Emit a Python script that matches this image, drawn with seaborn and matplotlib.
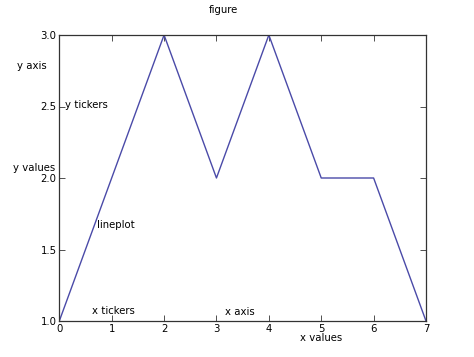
import matplotlib
matplotlib.use("Agg")
import matplotlib.pyplot as plt
import seaborn as sns
import pandas as pd

# data
x_values = [0, 1, 2, 3, 4, 5, 6, 7]
y_values = [1, 2, 3, 2, 3, 2, 2, 1]
x_ticks = [0, 1, 2, 3, 4, 5, 6, 7]
y_ticks = [1.0, 1.5, 2.0, 2.5, 3.0]

# free-floating labels (text, left px, centre y px)
labels = [
    ("y axis", 17, 66),
    ("y tickers", 65, 105),
    ("y values", 13, 168),
    ("lineplot", 97, 225),
    ("x tickers", 92, 311),
    ("x axis", 225, 312),
    ("x values", 300, 338),
]

sns.set_style("white")
plt.rcParams['font.family'] = ['DejaVu Sans']
plt.rcParams['text.color'] = 'black'

W, H = 474, 357
fig = plt.figure(figsize=(W / 100, H / 100), dpi=100)
ax = fig.add_axes([59.3 / W, 1 - 321 / H, (426 - 59.3) / W, (321 - 35) / H])

df = pd.DataFrame({"x": x_values, "y": y_values})
sns.lineplot(data=df, x="x", y="y", ax=ax, color="#4a4aa8", linewidth=1.0)

ax.set_xlim(0, 7)
ax.set_ylim(1.0, 3.0)
ax.set_xticks(x_ticks)
ax.set_yticks(y_ticks)
ax.set_xticklabels([str(v) for v in x_ticks])
ax.set_yticklabels([f"{v:.1f}" for v in y_ticks])
ax.set_xlabel("")
ax.set_ylabel("")
ax.tick_params(direction="in", length=4, width=0.6, labelsize=7.3, pad=2,
               top=True, right=True, bottom=True, left=True,
               colors="#333333", labelcolor="black")
for s in ax.spines.values():
    s.set_color("#333333")
    s.set_linewidth(0.9)

fig.text(223 / W, 1 - 10 / H, "figure", ha="center", va="center",
         fontsize=7.3, color="black")
for txt, px, py in labels:
    fig.text(px / W, 1 - py / H, txt, ha="left", va="center",
             fontsize=7.3, color="black")

fig.savefig("out.png", dpi=100)
